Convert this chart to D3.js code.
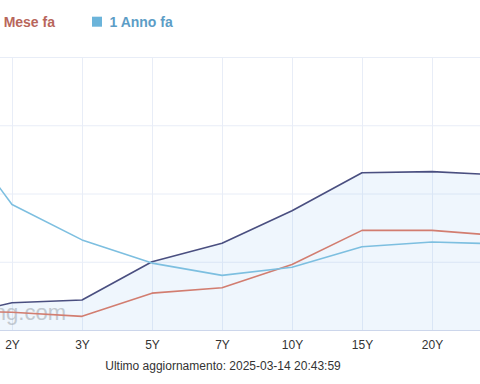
<!DOCTYPE html>
<html>
<head>
<meta charset="utf-8">
<script src="https://cdn.jsdelivr.net/npm/d3@7"></script>
<style>
  html, body { margin: 0; padding: 0; background: #fff; overflow: hidden; }
  svg { display: block; font-family: "Liberation Sans", Arial, sans-serif; }
</style>
</head>
<body>
<svg id="chart" width="480" height="384"></svg>
<script>
const categories = ["1Y", "2Y", "3Y", "5Y", "7Y", "10Y", "15Y", "20Y", "30Y"];
const current   = [2.08, 2.20, 2.22, 2.50, 2.635, 2.874, 3.152, 3.16, 3.135];
const monthAgo  = [2.14, 2.13, 2.10, 2.27, 2.31, 2.48, 2.73, 2.73, 2.69];
const yearAgo   = [3.61, 2.92, 2.66, 2.49, 2.40, 2.46, 2.61, 2.645, 2.63];
const yTicks    = [2, 2.5, 3, 3.5, 4];
const legendNames = ["1 Mese fa", "1 Anno fa"];
const footerText = "Ultimo aggiornamento: 2025-03-14 20:43:59";

const svg = d3.select("#chart");
const plotTop = 57, plotBottom = 330;

const x = d3.scalePoint().domain(categories).range([-58, 502]);
const y = d3.scaleLinear().domain([2, 4]).range([plotBottom, plotTop]);

const gridColor = "#e8edf7";

// horizontal grid
const gy = svg.append("g").attr("class", "ygrid")
  .call(d3.axisLeft(y).tickValues(yTicks).tickSize(-600).tickFormat(""));
gy.select(".domain").remove();
gy.selectAll("line").attr("stroke", gridColor).attr("stroke-width", 1);

// vertical grid
const gx = svg.append("g").attr("class", "xgrid")
  .attr("transform", `translate(0,${plotBottom})`)
  .call(d3.axisBottom(x).tickSize(-(plotBottom - plotTop)).tickFormat(""));
gx.select(".domain").remove();
gx.selectAll("line").attr("stroke", gridColor).attr("stroke-width", 1);

// watermark
svg.append("text")
  .attr("x", 66).attr("y", 320)
  .attr("text-anchor", "end")
  .attr("font-size", 22)
  .attr("fill", "#9a9a9a")
  .attr("opacity", 0.5)
  .text("Investing.com");

const pts = arr => arr.map((v, i) => [x(categories[i]), y(v)]);

// area under current curve
const area = d3.area().x(d => d[0]).y0(plotBottom).y1(d => d[1]);
svg.append("path")
  .datum(pts(current))
  .attr("d", area)
  .attr("fill", "#7cb5ec")
  .attr("fill-opacity", 0.12);

const line = d3.line().x(d => d[0]).y(d => d[1]);
const series = [
  { data: current, color: "#4a4f80" },
  { data: monthAgo, color: "#d27d70" },
  { data: yearAgo, color: "#7dbfe0" }
];
series.forEach(s => {
  svg.append("path")
    .datum(pts(s.data))
    .attr("d", line)
    .attr("fill", "none")
    .attr("stroke", s.color)
    .attr("stroke-width", 1.6)
    .attr("stroke-linejoin", "round");
});

// x axis line
svg.append("line")
  .attr("x1", 0).attr("x2", 480)
  .attr("y1", plotBottom + 0.5).attr("y2", plotBottom + 0.5)
  .attr("stroke", "#ccd6eb").attr("stroke-width", 1);

// x axis labels
const xa = svg.append("g")
  .attr("transform", `translate(0,${plotBottom})`)
  .call(d3.axisBottom(x).tickSize(0).tickPadding(0));
xa.select(".domain").remove();
xa.selectAll("text")
  .attr("dy", null)
  .attr("y", 18.5)
  .attr("font-size", 12)
  .attr("font-family", "Liberation Sans, Arial, sans-serif")
  .attr("fill", "#333");

// legend
svg.append("rect").attr("x", -29).attr("y", 16.5).attr("width", 10).attr("height", 10).attr("fill", "#d27d70");
svg.append("text")
  .attr("x", 55).attr("y", 27)
  .attr("text-anchor", "end")
  .attr("font-size", 14).attr("font-weight", "bold")
  .attr("fill", "#b8665b")
  .text(legendNames[0]);
svg.append("rect").attr("x", 92).attr("y", 16.7).attr("width", 10).attr("height", 10).attr("fill", "#6bb4da");
svg.append("text")
  .attr("x", 109.5).attr("y", 27)
  .attr("font-size", 14).attr("font-weight", "bold")
  .attr("fill", "#5c9dc6")
  .text(legendNames[1]);

// footer
svg.append("text")
  .attr("x", 223).attr("y", 370)
  .attr("text-anchor", "middle")
  .attr("font-size", 12)
  .attr("fill", "#333")
  .text(footerText);
</script>
</body>
</html>
